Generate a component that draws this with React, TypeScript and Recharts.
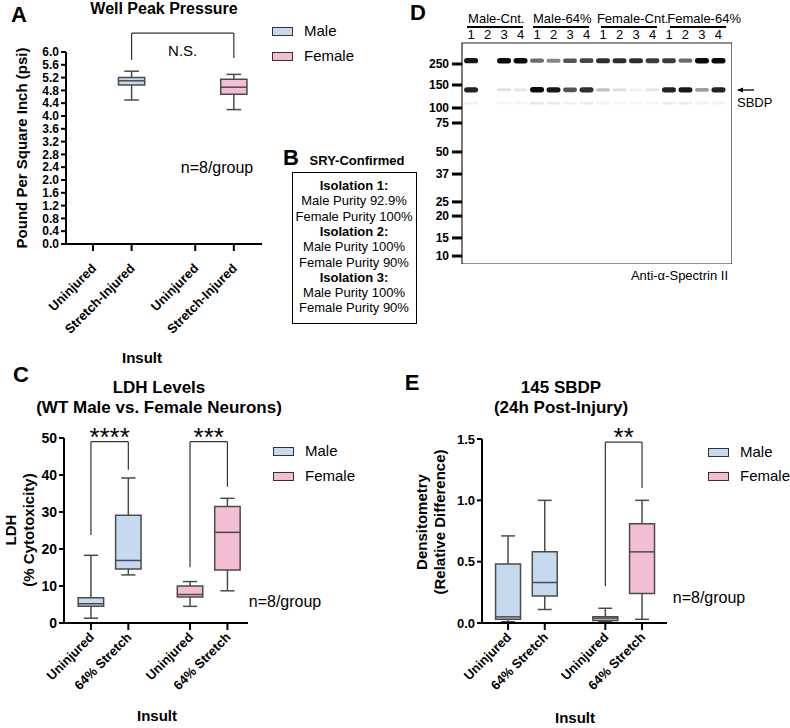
import React from "react";
import {
  ComposedChart,
  XAxis,
  YAxis,
  ReferenceArea,
  ReferenceLine,
  Scatter,
} from "recharts";

const FONT = '"Liberation Sans", Arial, Helvetica, sans-serif';
const MALE_FILL = "#c6d9ef";
const FEMALE_FILL = "#f3bdd3";
const EDGE = "#4b4b4b";
const FILLS: Record<string, string> = { Male: MALE_FILL, Female: FEMALE_FILL };

// categories (two per sex)
const groupSex = ["Male", "Male", "Female", "Female"];
const pressureInsults = ["Uninjured", "Stretch-Injured", "Uninjured", "Stretch-Injured"];
const stretchInsults = ["Uninjured", "64% Stretch", "Uninjured", "64% Stretch"];

// box stats: [min, q1, median, q3, max]
const pressureStats = [null, [4.5, 4.97, 5.1, 5.2, 5.4], null, [4.2, 4.68, 4.9, 5.15, 5.3]];
const pressureTicks = [0, 0.4, 0.8, 1.2, 1.6, 2.0, 2.4, 2.8, 3.2, 3.6, 4.0, 4.4, 4.8, 5.2, 5.6, 6.0];

const ldhStats = [
  [1.3, 4.5, 5.2, 6.8, 18.3],
  [13.0, 14.6, 16.9, 29.1, 39.2],
  [4.5, 7.0, 7.7, 10.0, 11.2],
  [8.7, 14.3, 24.5, 31.5, 33.7],
];
const ldhTicks = [0, 10, 20, 30, 40, 50];

const sbdpStats = [
  [0.01, 0.03, 0.05, 0.48, 0.71],
  [0.11, 0.22, 0.33, 0.58, 1.0],
  [0.01, 0.02, 0.04, 0.05, 0.12],
  [0.03, 0.24, 0.58, 0.81, 1.0],
];
const sbdpTicks = [0, 0.5, 1.0, 1.5];

type Bracket = { from: number; to: number; top: number; leftEnd: number; rightEnd: number; text: string };

const pressureBrackets: Bracket[] = [{ from: 1, to: 3, top: 6.59, leftEnd: 5.75, rightEnd: 5.81, text: "N.S." }];
const ldhBrackets: Bracket[] = [
  { from: 0, to: 1, top: 49, leftEnd: 23.8, rightEnd: 41.4, text: "****" },
  { from: 2, to: 3, top: 49, leftEnd: 15.1, rightEnd: 36.8, text: "***" },
];
const sbdpBrackets: Bracket[] = [{ from: 2, to: 3, top: 1.475, leftEnd: 0.3, rightEnd: 1.1, text: "**" }];

// western blot
const laneGroups = ["Male-Cnt.", "Male-64%", "Female-Cnt.", "Female-64%"];
const lanes = [1, 2, 3, 4, 5, 6, 7, 8, 9, 10, 11, 12, 13, 14, 15, 16];
const laneNumbers = [1, 2, 3, 4, 1, 2, 3, 4, 1, 2, 3, 4, 1, 2, 3, 4];
const markerKda = [250, 150, 100, 75, 50, 37, 25, 20, 15, 10];
const markerRf = [0.095, 0.19, 0.294, 0.362, 0.493, 0.593, 0.719, 0.783, 0.882, 0.964];
const band250 = [0.95, 0, 1, 1, 0.6, 0.5, 0.7, 0.75, 0.85, 0.85, 0.85, 0.8, 0.8, 0.6, 1, 1];
const bandSbdp = [0.9, 0, 0.12, 0.1, 1, 0.95, 0.7, 0.85, 0.25, 0.14, 0.06, 0.1, 0.9, 0.95, 0.4, 0.9];
const band120 = [0.06, 0, 0.04, 0.04, 0.09, 0.08, 0.06, 0.07, 0.05, 0.03, 0.03, 0.03, 0.07, 0.07, 0.05, 0.05];
const bandRows = [
  { rf: 0.08, levels: band250 },
  { rf: 0.212, levels: bandSbdp },
  { rf: 0.272, levels: band120 },
];

const slotOf = (i: number) => i + 1 + (i >= 2 ? 0.65 : 0);
const BOX_HALF = 0.34;
const CAP_HALF = 0.19;

function Txt({ x, y, children, size = 14, bold = false, anchor = "middle", rotate = 0 }: any) {
  const tx = anchor === "middle" ? "-50%" : anchor === "end" ? "-100%" : "0";
  return (
    <div
      style={{
        position: "absolute",
        left: x,
        top: y,
        transform: `translate(${tx}, -50%)${rotate ? ` rotate(${rotate}deg)` : ""}`,
        fontSize: size,
        fontWeight: bold ? 700 : 400,
        whiteSpace: "nowrap",
        lineHeight: 1.1,
        color: "#000",
      }}
    >
      {children}
    </div>
  );
}

function Legend2({ x, y, gap }: { x: number; y: number; gap: number }) {
  return (
    <>
      {["Male", "Female"].map((s, i) => (
        <React.Fragment key={s}>
          <div
            style={{
              position: "absolute",
              left: x,
              top: y + i * gap - 4,
              width: 19,
              height: 7,
              background: FILLS[s],
              border: "1px solid #333",
            }}
          />
          <Txt x={x + 32} y={y + i * gap} size={15} anchor="start">
            {s}
          </Txt>
        </React.Fragment>
      ))}
    </>
  );
}

type PanelProps = {
  left: number;
  top: number;
  width: number;
  height: number;
  marginTop: number;
  yWidth: number;
  xHeight: number;
  xDomain: [number, number];
  yDomain: [number, number];
  yTicks: number[];
  digits: number;
  yFont: number;
  tickDy: number;
  labels: string[];
  stats: (number[] | null)[];
  brackets: Bracket[];
  markSize: number;
  markBelow?: boolean;
};

function BoxPanel(p: PanelProps) {
  const slots = p.labels.map((_, i) => slotOf(i));
  const data = slots.map((s) => ({ slot: s }));
  const XTick = (t: any) => {
    const i = slots.indexOf(t.payload.value);
    const ax = t.x + 4;
    const ay = t.y + p.tickDy;
    return (
      <text
        x={ax}
        y={ay}
        textAnchor="end"
        transform={`rotate(-45 ${ax} ${ay})`}
        fontSize={13}
        fontWeight={700}
        fontFamily={FONT}
        fill="#000"
      >
        {p.labels[i]}
      </text>
    );
  };
  return (
    <div style={{ position: "absolute", left: p.left, top: p.top }}>
      <ComposedChart
        width={p.width}
        height={p.height}
        data={data}
        margin={{ top: p.marginTop, right: 0, bottom: 0, left: 0 }}
      >
        <XAxis
          dataKey="slot"
          type="number"
          domain={p.xDomain}
          allowDataOverflow
          ticks={slots}
          interval={0}
          height={p.xHeight}
          tickSize={7}
          tickMargin={2}
          tick={XTick}
          axisLine={{ stroke: "#000", strokeWidth: 2 }}
          tickLine={{ stroke: "#000", strokeWidth: 2 }}
        />
        <YAxis
          type="number"
          domain={p.yDomain}
          allowDataOverflow
          ticks={p.yTicks}
          interval={0}
          width={p.yWidth}
          tickSize={5}
          tickMargin={2}
          tickFormatter={(v: number) => v.toFixed(p.digits)}
          tick={{ fill: "#000", fontSize: p.yFont, fontWeight: 700, fontFamily: FONT }}
          axisLine={{ stroke: "#000", strokeWidth: 2 }}
          tickLine={{ stroke: "#000", strokeWidth: 2 }}
        />
        {p.stats.map((st, i) => {
          if (!st) return null;
          const x = slots[i];
          const [lo, q1, med, q3, hi] = st;
          const line = { stroke: EDGE, strokeWidth: 1.5 };
          return (
            <React.Fragment key={i}>
              <ReferenceLine segment={[{ x, y: lo }, { x, y: q1 }]} {...line} />
              <ReferenceLine segment={[{ x, y: q3 }, { x, y: hi }]} {...line} />
              <ReferenceLine segment={[{ x: x - CAP_HALF, y: lo }, { x: x + CAP_HALF, y: lo }]} {...line} />
              <ReferenceLine segment={[{ x: x - CAP_HALF, y: hi }, { x: x + CAP_HALF, y: hi }]} {...line} />
              <ReferenceArea
                x1={x - BOX_HALF}
                x2={x + BOX_HALF}
                y1={q1}
                y2={q3}
                fill={FILLS[groupSex[i]]}
                fillOpacity={1}
                stroke={EDGE}
                strokeWidth={1.5}
              />
              <ReferenceLine segment={[{ x: x - BOX_HALF, y: med }, { x: x + BOX_HALF, y: med }]} {...line} />
            </React.Fragment>
          );
        })}
        {p.brackets.map((b, i) => {
          const x1 = slots[b.from];
          const x2 = slots[b.to];
          const line = { stroke: "#333", strokeWidth: 1.2, ifOverflow: "visible" as const };
          return (
            <React.Fragment key={"b" + i}>
              <ReferenceLine segment={[{ x: x1, y: b.leftEnd }, { x: x1, y: b.top }]} {...line} />
              <ReferenceLine segment={[{ x: x2, y: b.rightEnd }, { x: x2, y: b.top }]} {...line} />
              <ReferenceLine
                segment={[{ x: x1, y: b.top }, { x: x2, y: b.top }]}
                {...line}
                label={{
                  value: b.text,
                  position: p.markBelow ? "bottom" : "top",
                  offset: p.markBelow ? 12 : -4,
                  fill: "#000",
                  fontSize: p.markSize,
                  fontFamily: FONT,
                }}
              />
            </React.Fragment>
          );
        })}
      </ComposedChart>
    </div>
  );
}

const BandShape = (props: any) => {
  const { cx, cy, payload } = props;
  const h = 2.5 + payload.level * 3;
  return (
    <rect
      x={cx - 7}
      y={cy - h / 2}
      width={14}
      height={h}
      rx={h / 2}
      fill="#0b0b0b"
      fillOpacity={Math.min(1, payload.level)}
      style={{ filter: "blur(0.6px)" }}
    />
  );
};

// small nudges so the group headers sit as in the source figure
const headerNudge = [0, 0, 4, 9];

function BlotPanel() {
  const bands = bandRows
    .flatMap((row) => row.levels.map((level, i) => ({ lane: lanes[i], rf: row.rf, level })))
    .filter((b) => b.level > 0);
  const laneX = (lane: number) => 462 + ((lane - 0.45) / (16.82 - 0.45)) * 270;
  return (
    <>
      <div style={{ position: "absolute", left: 400, top: 0 }}>
        <ComposedChart width={332} height={264} data={bands} margin={{ top: 0, right: 0, bottom: 0, left: 0 }}>
          <XAxis
            dataKey="lane"
            type="number"
            orientation="top"
            domain={[0.45, 16.82]}
            allowDataOverflow
            ticks={lanes}
            interval={0}
            height={43}
            tickSize={2}
            tickMargin={2}
            tickLine={false}
            axisLine={false}
            tickFormatter={(v: number) => String(laneNumbers[v - 1])}
            tick={{ fill: "#000", fontSize: 13, fontFamily: FONT }}
          />
          <YAxis
            type="number"
            dataKey="rf"
            reversed
            domain={[0, 1]}
            allowDataOverflow
            ticks={markerRf}
            interval={0}
            width={62}
            tickSize={10}
            tickMargin={3}
            axisLine={false}
            tickLine={{ stroke: "#000", strokeWidth: 3 }}
            tickFormatter={(v: number) => String(markerKda[markerRf.indexOf(v)])}
            tick={{ fill: "#000", fontSize: 12, fontWeight: 700, fontFamily: FONT }}
          />
          <ReferenceArea x1={0.45} x2={16.82} y1={0} y2={1} fill="none" stroke="#222" strokeWidth={1.2} ifOverflow="visible" />
          <Scatter data={bands} dataKey="rf" shape={BandShape} isAnimationActive={false} />
        </ComposedChart>
      </div>
      {laneGroups.map((g, gi) => {
        const a = laneX(gi * 4 + 1) - 4 + headerNudge[gi] * 0.6;
        const b = laneX(gi * 4 + 4) + 5 + headerNudge[gi] * 0.6;
        return (
          <React.Fragment key={g}>
            <Txt x={(a + b) / 2 + headerNudge[gi] * 0.5} y={19} size={13}>
              {g}
            </Txt>
            <div
              style={{ position: "absolute", left: a, top: 26, width: b - a - 3, height: 2, background: "#000" }}
            />
          </React.Fragment>
        );
      })}
      <svg style={{ position: "absolute", left: 734, top: 84 }} width={22} height={12}>
        <line x1={4} y1={6} x2={20} y2={6} stroke="#000" strokeWidth={1.3} />
        <path d="M3 6 L9 3.5 L9 8.5 Z" fill="#000" />
      </svg>
      <Txt x={737} y={103} size={13} anchor="start">
        SBDP
      </Txt>
      <Txt x={728} y={276} size={13} anchor="end">
        Anti-α-Spectrin II
      </Txt>
    </>
  );
}

function InfoBox() {
  const lines: [string, boolean][] = [
    ["Isolation 1:", true],
    ["Male Purity 92.9%", false],
    ["Female Purity 100%", false],
    ["Isolation 2:", true],
    ["Male Purity 100%", false],
    ["Female Purity 90%", false],
    ["Isolation 3:", true],
    ["Male Purity 100%", false],
    ["Female Purity 90%", false],
  ];
  return (
    <>
      <div
        style={{
          position: "absolute",
          left: 292,
          top: 172,
          width: 123,
          height: 150,
          border: "1.5px solid #000",
        }}
      />
      {lines.map(([t, b], i) => (
        <Txt key={i} x={354} y={186 + i * 15.3} size={13} bold={b}>
          {t}
        </Txt>
      ))}
    </>
  );
}

export default function App() {
  return (
    <div
      style={{
        position: "absolute",
        left: 0,
        top: 0,
        width: 790,
        height: 728,
        background: "#fff",
        fontFamily: FONT,
        overflow: "hidden",
      }}
    >
      {/* A */}
      <Txt x={19} y={15} size={22} bold>A</Txt>
      <Txt x={164} y={9} size={16} bold>Well Peak Pressure</Txt>
      <Txt x={22} y={148} size={15} bold rotate={-90}>Pound Per Square Inch (psi)</Txt>
      <BoxPanel
        left={0}
        top={20}
        width={262}
        height={334}
        marginTop={32}
        yWidth={66}
        xHeight={110}
        xDomain={[0.3, 5.38]}
        yDomain={[0, 6]}
        yTicks={pressureTicks}
        digits={1}
        yFont={12}
        tickDy={16}
        labels={pressureInsults}
        stats={pressureStats}
        brackets={pressureBrackets}
        markSize={15}
        markBelow
      />
      <Legend2 x={272} y={31} gap={25} />
      <Txt x={217} y={168} size={16}>n=8/group</Txt>
      <Txt x={142} y={358} size={15} bold>Insult</Txt>

      {/* B */}
      <Txt x={291} y={158} size={22} bold>B</Txt>
      <Txt x={357} y={161} size={13} bold>SRY-Confirmed</Txt>
      <InfoBox />

      {/* D */}
      <Txt x={418} y={13} size={22} bold>D</Txt>
      <BlotPanel />

      {/* C */}
      <Txt x={21} y={375} size={22} bold>C</Txt>
      <Txt x={159} y={388} size={17} bold>LDH Levels</Txt>
      <Txt x={159} y={408} size={17} bold>(WT Male vs. Female Neurons)</Txt>
      <Txt x={11} y={530} size={15} bold rotate={-90}>LDH</Txt>
      <Txt x={29} y={530} size={15} bold rotate={-90}>(% Cytotoxicity)</Txt>
      <BoxPanel
        left={0}
        top={420}
        width={248}
        height={293}
        marginTop={18}
        yWidth={64}
        xHeight={90}
        xDomain={[0.28, 5.2]}
        yDomain={[0, 50]}
        yTicks={ldhTicks}
        digits={0}
        yFont={14}
        tickDy={6}
        labels={stretchInsults}
        stats={ldhStats}
        brackets={ldhBrackets}
        markSize={26}
      />
      <Legend2 x={273} y={451} gap={25} />
      <Txt x={285} y={602} size={16}>n=8/group</Txt>
      <Txt x={157} y={716} size={15} bold>Insult</Txt>

      {/* E */}
      <Txt x={412} y={383} size={22} bold>E</Txt>
      <Txt x={561} y={388} size={17} bold>145 SBDP</Txt>
      <Txt x={561} y={408} size={17} bold>(24h Post-Injury)</Txt>
      <Txt x={422} y={522} size={15} bold rotate={-90}>Densitometry</Txt>
      <Txt x={440} y={522} size={15} bold rotate={-90}>(Relative Difference)</Txt>
      <BoxPanel
        left={400}
        top={420}
        width={267}
        height={293}
        marginTop={19}
        yWidth={82}
        xHeight={90}
        xDomain={[0.29, 5.33]}
        yDomain={[0, 1.5]}
        yTicks={sbdpTicks}
        digits={1}
        yFont={13}
        tickDy={6}
        labels={stretchInsults}
        stats={sbdpStats}
        brackets={sbdpBrackets}
        markSize={26}
      />
      <Legend2 x={708} y={452} gap={24} />
      <Txt x={709} y={598} size={16}>n=8/group</Txt>
      <Txt x={575} y={718} size={15} bold>Insult</Txt>
    </div>
  );
}
